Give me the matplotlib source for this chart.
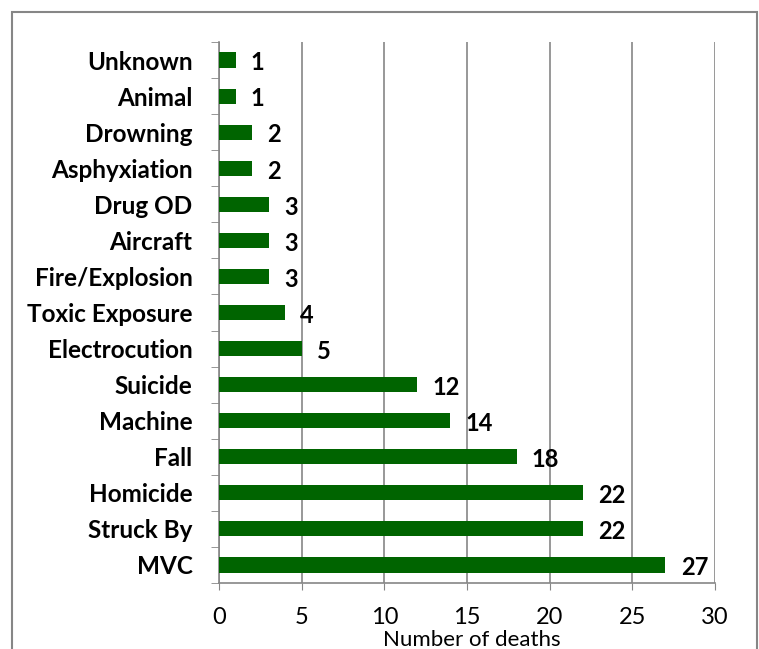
"""Deaths by cause, horizontal bar chart"""
import matplotlib
matplotlib.use("Agg")
import matplotlib.pyplot as plt
from matplotlib.patches import Rectangle
import numpy as np

causes = ["MVC", "Struck By", "Homicide", "Fall", "Machine", "Suicide",
          "Electrocution", "Toxic Exposure", "Fire/Explosion", "Aircraft",
          "Drug OD", "Asphyxiation", "Drowning", "Animal", "Unknown"]
deaths = [27, 22, 22, 18, 14, 12, 5, 4, 3, 3, 3, 2, 2, 1, 1]

GREEN = "#006400"
GREY  = "#868686"

plt.rcParams["font.family"] = ["Lato", "DejaVu Sans"]

fig = plt.figure(figsize=(7.59, 6.49), dpi=100)
ax = fig.add_axes([219/759, 1 - 583/649, (715 - 219)/759, (583 - 42)/649])

y = np.arange(len(causes))
ax.barh(y, deaths, height=0.42, color=GREEN, zorder=3)
for yi, v in zip(y, deaths):
    ax.annotate(str(v), (v, yi), xytext=(11, -2), textcoords="offset points",
                ha="left", va="center", fontsize=17, fontweight="bold")

ax.set_xlim(0, 30)
ax.set_ylim(-0.5, len(causes) - 0.5)
ax.set_xticks(range(0, 31, 5))
ax.set_yticks(y)
ax.set_yticklabels(causes, fontsize=17.5, fontweight="bold")
ax.set_yticks(np.arange(-0.5, len(causes), 1), minor=True)
ax.tick_params(axis="y", which="major", length=0, pad=19)
ax.tick_params(axis="y", which="minor", length=6, color=GREY, direction="out")
ax.tick_params(axis="x", length=5, color=GREY, labelsize=17, pad=12)
ax.set_xlabel("Number of deaths", fontsize=16, va="center")
ax.xaxis.set_label_coords(0.51, -0.106)

ax.grid(axis="x", color=GREY, linewidth=1.2, zorder=0)
for s in ("top", "right"):
    ax.spines[s].set_visible(False)
for s in ("left", "bottom"):
    ax.spines[s].set_color(GREY)
    ax.spines[s].set_linewidth(1.2)

fig.patches.append(Rectangle((12/759, -0.01), (757 - 12)/759, 1.01 - 12/649,
                             transform=fig.transFigure, fill=False,
                             edgecolor=GREY, linewidth=1.5))

fig.savefig("out.png", dpi=100)
